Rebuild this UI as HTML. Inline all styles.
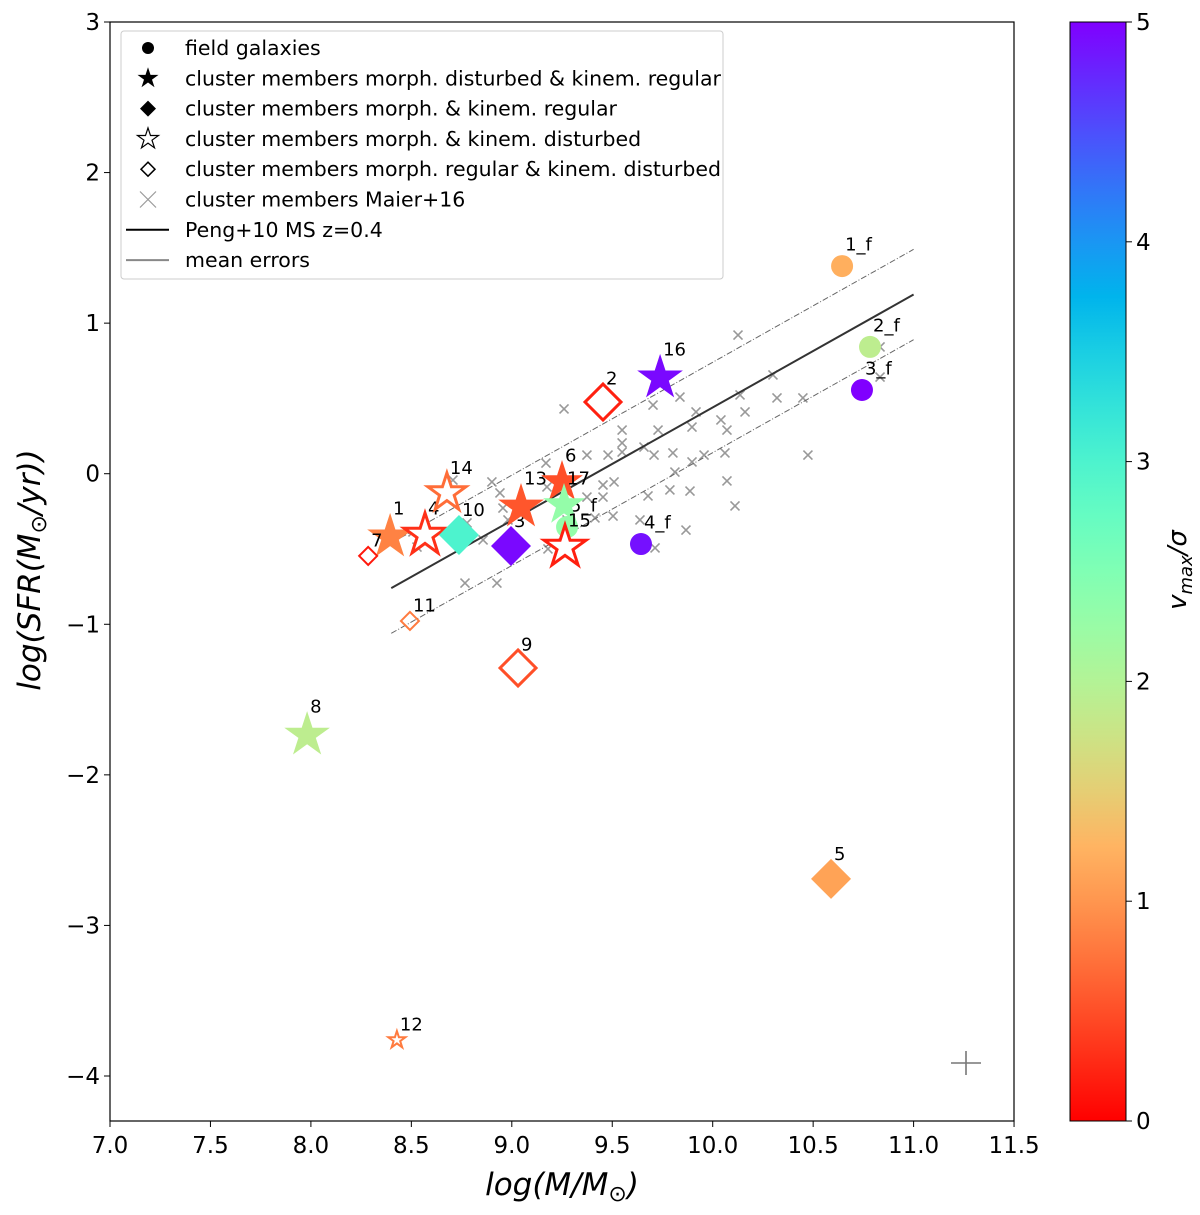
<!DOCTYPE html>
<html><head><meta charset="utf-8"><style>
body{margin:0;background:#fff}
svg{display:block;font-family:"DejaVu Sans","Liberation Sans",sans-serif}
</style></head><body>
<svg id="chart" width="1200" height="1215" viewBox="0 0 1200 1215" xmlns="http://www.w3.org/2000/svg">
<defs>
<linearGradient id="cbg" x1="0" y1="1" x2="0" y2="0" gradientUnits="objectBoundingBox"></linearGradient>
</defs>
<g id="plot"></g>
</svg>
<script>
const xTicks=[7.0,7.5,8.0,8.5,9.0,9.5,10.0,10.5,11.0,11.5];
const yTicks=[3,2,1,0,-1,-2,-3,-4];
const cbTicks=[0,1,2,3,4,5];
const crossX=[10.126,9.703,9.837,9.917,9.728,9.549,9.549,9.658,9.897,10.041,10.071,10.136,10.300,10.320,10.449,10.161,9.479,9.708,9.802,9.957,10.061,9.897,10.474,9.509,9.678,9.787,9.887,9.812,10.071,10.111,9.504,9.867,9.638,9.713,10.833,10.833,9.260,9.549,9.374,9.170,8.901,8.941,8.956,9.175,9.454,9.454,9.374,9.414,9.275,8.981,8.777,8.508,8.528,8.956,8.857,9.180,8.767,8.926,8.707];
const crossY=[0.921,0.456,0.509,0.410,0.290,0.290,0.204,0.177,0.310,0.357,0.290,0.523,0.656,0.503,0.503,0.410,0.124,0.124,0.138,0.124,0.138,0.078,0.124,-0.055,-0.148,-0.108,-0.115,0.011,-0.048,-0.214,-0.281,-0.374,-0.307,-0.493,0.842,0.642,0.430,0.144,0.124,0.071,-0.055,-0.128,-0.228,-0.088,-0.075,-0.155,-0.155,-0.294,-0.307,-0.307,-0.327,-0.387,-0.487,-0.493,-0.440,-0.500,-0.726,-0.726,-0.042];
const ptLabels=["1_f","2_f","3_f","4_f","5_f","1","7","4","14","10","3","13","6","17","15","2","16","11","9","8","5","12"];
const ptKind=["circle","circle","circle","circle","circle","star","odiamond","ostar","ostar","diamond","diamond","star","star","star","ostar","odiamond","star","odiamond","odiamond","star","diamond","ostar"];
const ptX=[10.644,10.783,10.743,9.643,9.275,8.394,8.285,8.568,8.677,8.737,8.996,9.046,9.250,9.260,9.265,9.454,9.738,8.493,9.031,7.981,10.589,8.428];
const ptY=[1.379,0.842,0.556,-0.467,-0.354,-0.420,-0.546,-0.407,-0.128,-0.407,-0.480,-0.221,-0.055,-0.208,-0.487,0.476,0.636,-0.978,-1.290,-1.736,-2.691,-3.761];
const ptV=[1.2,1.9,5.0,4.9,2.3,0.85,0.15,0.3,0.7,3.0,4.95,0.55,0.5,2.3,0.2,0.2,4.95,0.8,0.5,1.9,1.1,0.8];
const ptSize=[11,11,11,11,11,24,9,22,20,20,20,24,22,22,22,18,24,9,18,24,20,9];
const msSlope=0.75, msIntercept=-7.06, msOffset=0.3, msX0=8.4, msX1=11.0;

const X=v=>110+(v-7)*200.9, Y=v=>22+(3-v)*150.57;
const CB=v=>1121-v*(1099/5);
const NS="http://www.w3.org/2000/svg";
const svg=document.getElementById('chart');
const g=document.getElementById('plot');
function el(t,a,p){const e=document.createElementNS(NS,t);for(const k in a)e.setAttribute(k,a[k]);(p||g).appendChild(e);return e;}
function cmap(v){const x=1-Math.max(0,Math.min(5,v))/5;const r=Math.min(1,Math.abs(2*x-0.5)),gg=Math.sin(Math.PI*x),b=Math.cos(Math.PI*x/2);return `rgb(${Math.round(r*255)},${Math.round(gg*255)},${Math.round(b*255)})`;}
function starPts(cx,cy,R){const r=R*0.382;let s=[];for(let i=0;i<10;i++){const a=-Math.PI/2+i*Math.PI/5;const rr=i%2?r:R;s.push((cx+rr*Math.cos(a)).toFixed(1)+','+(cy+rr*Math.sin(a)).toFixed(1));}return s.join(' ');}
function diaPts(cx,cy,R){return `${cx},${cy-R} ${cx+R},${cy} ${cx},${cy+R} ${cx-R},${cy}`;}

let f=el('rect',{x:110,y:22,width:904,height:1099,fill:'none',stroke:'#000','stroke-width':1.2});

xTicks.forEach(t=>{const x=X(t);el('line',{x1:x,x2:x,y1:1121,y2:1127,stroke:'#000'});
 let tx=el('text',{x:x,y:1153,'font-size':23,'text-anchor':'middle'});tx.textContent=t.toFixed(1);
 });
yTicks.forEach(t=>{const y=Y(t);el('line',{x1:104,x2:110,y1:y,y2:y,stroke:'#000'});
 let tx=el('text',{x:100,y:y+8,'font-size':23,'text-anchor':'end'});tx.textContent=(t<0?'\u2212'+(-t):t);
 });
let xt=el('text',{x:562,y:1195,'font-size':31,'text-anchor':'middle','font-style':'italic'});
xt.innerHTML='log(M/M<tspan font-size="22" dy="6">\u2299</tspan><tspan dy="-6">)</tspan>';

let yt=el('text',{x:0,y:0,'font-size':31,'text-anchor':'middle','font-style':'italic',transform:'translate(40,570) rotate(-90)'});
yt.innerHTML='log(SFR(M<tspan font-size="22" dy="6">\u2299</tspan><tspan dy="-6">/yr))</tspan>';


crossX.forEach((cx,i)=>{const x=X(cx),y=Y(crossY[i]),s=4.5;
 const c=el('path',{d:`M${x-s},${y-s}L${x+s},${y+s}M${x-s},${y+s}L${x+s},${y-s}`,stroke:'#999','stroke-width':1.6});
 
 });
const ms=x=>msSlope*x+msIntercept;
let m=el('line',{x1:X(msX0),y1:Y(ms(msX0)),x2:X(msX1),y2:Y(ms(msX1)),stroke:'#333','stroke-width':2});

[msOffset,-msOffset].forEach(o=>{let d=el('line',{x1:X(msX0),y1:Y(ms(msX0)+o),x2:X(msX1),y2:Y(ms(msX1)+o),stroke:'#666','stroke-width':1,'stroke-dasharray':'6,2,1,2'});
 });
ptX.forEach((px,i)=>{const x=X(px),y=Y(ptY[i]),c=cmap(ptV[i]),R=ptSize[i],k=ptKind[i];let e;
 if(k==='circle')e=el('circle',{cx:x,cy:y,r:R,fill:c});
 else if(k==='star')e=el('polygon',{points:starPts(x,y,R),fill:c});
 else if(k==='ostar')e=el('polygon',{points:starPts(x,y,R),fill:'#fff',stroke:c,'stroke-width':R<12?2:3});
 else if(k==='diamond')e=el('polygon',{points:diaPts(x,y,R),fill:c});
 else e=el('polygon',{points:diaPts(x,y,R),fill:'none',stroke:c,'stroke-width':R<12?2:3});
 
 
 const t=el('text',{x:x+3,y:y-R*0.85+(k==='circle'?-6:-2),'font-size':18});t.textContent=ptLabels[i];
 
 });
let me=el('path',{d:'M951,1063H981M966,1051V1075',stroke:'#777','stroke-width':1.6});


const lg=el('g',{});
el('rect',{x:121,y:31,width:602,height:248,rx:3,fill:'#fff',stroke:'#ccc'},lg);
const lab=["field galaxies","cluster members morph. disturbed & kinem. regular","cluster members morph. & kinem. regular","cluster members morph. & kinem. disturbed","cluster members morph. regular & kinem. disturbed","cluster members Maier+16","Peng+10 MS z=0.4","mean errors"];
lab.forEach((s,i)=>{const y=48+i*30.3,x=148;
 if(i===0)el('circle',{cx:x,cy:y,r:6,fill:'#000'},lg);
 if(i===1)el('polygon',{points:starPts(x,y,11),fill:'#000'},lg);
 if(i===2)el('polygon',{points:diaPts(x,y,8),fill:'#000'},lg);
 if(i===3)el('polygon',{points:starPts(x,y,11),fill:'#fff',stroke:'#000','stroke-width':1.2},lg);
 if(i===4)el('polygon',{points:diaPts(x,y,7),fill:'#fff',stroke:'#000','stroke-width':1.5},lg);
 if(i===5)el('path',{d:`M${x-8},${y-8}L${x+8},${y+8}M${x-8},${y+8}L${x+8},${y-8}`,stroke:'#999','stroke-width':1.2},lg);
 if(i===6)el('line',{x1:126,x2:169,y1:y,y2:y,stroke:'#000','stroke-width':2},lg);
 if(i===7)el('line',{x1:126,x2:169,y1:y,y2:y,stroke:'#888','stroke-width':2},lg);
 const t=el('text',{x:185,y:y+7,'font-size':20.5},lg);t.textContent=s;
 });

const grad=document.getElementById('cbg');
for(let i=0;i<=20;i++){const s=document.createElementNS(NS,'stop');s.setAttribute('offset',i/20);s.setAttribute('stop-color',cmap(i/4));grad.appendChild(s);}
let cb=el('rect',{x:1070,y:22,width:56,height:1099,fill:'url(#cbg)',stroke:'#000','stroke-width':1});

cbTicks.forEach(t=>{const y=CB(t);el('line',{x1:1126,x2:1132,y1:y,y2:y,stroke:'#000'});
 const tx=el('text',{x:1136,y:y+8,'font-size':23});tx.textContent=t;
 });
let ct=el('text',{x:0,y:0,'font-size':26,'text-anchor':'middle','font-style':'italic',transform:'translate(1186,570) rotate(-90)'});
ct.innerHTML='v<tspan font-size="18" dy="6">max</tspan><tspan dy="-6">/\u03c3</tspan>';

</script>
</body></html>
